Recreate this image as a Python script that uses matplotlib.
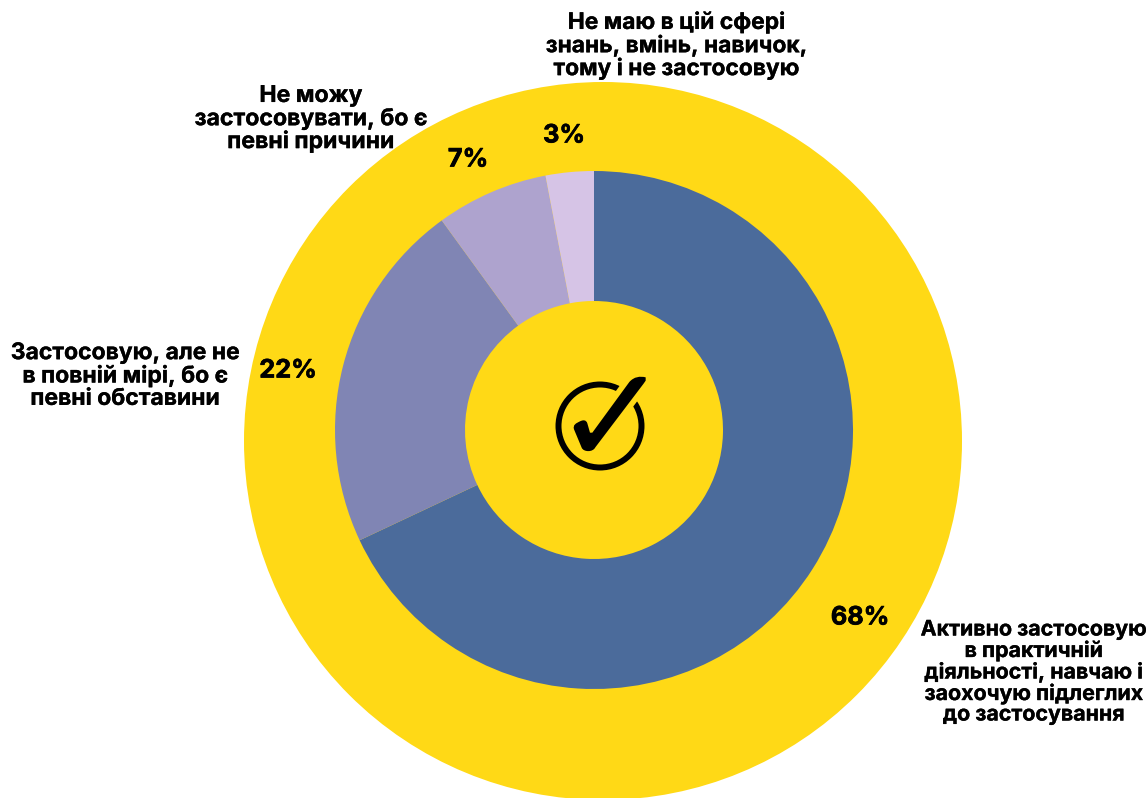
import matplotlib
matplotlib.use("Agg")
import matplotlib.pyplot as plt
import matplotlib.patheffects as pe
from matplotlib.patches import Circle, PathPatch, Wedge
from matplotlib.path import Path

# --- Дані ---
labels = [
    "Активно застосовую\nв практичній\nдіяльності, навчаю і\nзаохочую підлеглих\nдо застосування",
    "Застосовую, але не\nв повній мірі, бо є\nпевні обставини",
    "Не можу\nзастосовувати, бо є\nпевні причини",
    "Не маю в цій сфері\nзнань, вмінь, навичок,\nтому і не застосовую",
]
values = [68, 22, 7, 3]
colors = ["#4B6B9B", "#8085B4", "#AEA3CE", "#D6C4E6"]

YELLOW = "#FFD916"
W, H = 1148, 798

# підписи: центр блоку в пікселях, кегль і міжрядковий інтервал
label_pos = [(1034, 672), (125, 376), (311, 119), (676, 46)]
label_size = [15.4, 16.5, 16.6, 16.4]
label_spacing = [1.03, 1.02, 1.05, 1.02]
pct_pos = [(860, 618), (288, 371), (468, 160), (564, 136)]

plt.rcParams["font.family"] = ["Inter", "DejaVu Sans"]

fig = plt.figure(figsize=(W / 100, H / 100), dpi=100, facecolor="white")
ax = fig.add_axes([0, 0, 1, 1])
ax.set_xlim(0, W)
ax.set_ylim(H, 0)  # вісь y вниз, як у пікселях
ax.set_aspect("equal")
ax.axis("off")

# жовте тло-коло і внутрішнє кільце
ax.add_patch(Circle((603, 441), 359, fc=YELLOW, ec="none", zorder=1))

cx, cy, r_out, r_in = 594, 430, 259, 129
start = -90.0  # y вниз, тому кут зростає за годинниковою стрілкою
total = sum(values)
for v, c in zip(values, colors):
    end = start + 360.0 * v / total
    ax.add_patch(Wedge((cx, cy), r_out, start, end, width=r_out - r_in, fc=c, ec="none", zorder=2))
    start = end

# підписи
for text, (x, y), fs, ls in zip(labels, label_pos, label_size, label_spacing):
    ax.text(x, y, text, ha="center", va="center", fontsize=fs, fontweight="bold",
            linespacing=ls, color="black", zorder=4,
            path_effects=[pe.withStroke(linewidth=0.2, foreground="black")])
for v, (x, y) in zip(values, pct_pos):
    ax.text(x, y, f"{v}%", ha="center", va="center", fontsize=18.2, fontweight="bold",
            color="black", zorder=4,
            path_effects=[pe.withStroke(linewidth=0.5, foreground="black")])

# значок-галочка в центрі
ax.add_patch(Circle((600, 426), 41.5, fc="none", ec="black", lw=4.3, zorder=3))


def tick_xy(px, py):
    # координати значка задані в сітці 390x390, що накриває 130x130 пікселів
    return 530 + px / 3, 360 + py / 3


tick_verts = [
    (347, 52), (330, 48), (312, 50), (298, 66),
    (187, 218), (180, 218), (172, 190),
    (168, 178), (158, 180), (150, 184),
    (138, 190), (128, 194), (132, 208),
    (155, 263), (160, 276), (188, 278), (196, 262),
    (340, 72), (347, 62), (347, 52),
]
tick_codes = [
    Path.MOVETO, Path.CURVE4, Path.CURVE4, Path.CURVE4,
    Path.LINETO, Path.LINETO, Path.LINETO,
    Path.CURVE4, Path.CURVE4, Path.CURVE4,
    Path.CURVE4, Path.CURVE4, Path.CURVE4,
    Path.LINETO, Path.CURVE4, Path.CURVE4, Path.CURVE4,
    Path.LINETO, Path.LINETO, Path.LINETO,
]
tick = Path([tick_xy(*p) for p in tick_verts], tick_codes)
# жовта обводка робить розрив у колі навколо галочки
ax.add_patch(PathPatch(tick, fc=YELLOW, ec=YELLOW, lw=8, zorder=3.5))
ax.add_patch(PathPatch(tick, fc="black", ec="none", zorder=3.6))

fig.savefig("out.png", dpi=100, facecolor="white")
